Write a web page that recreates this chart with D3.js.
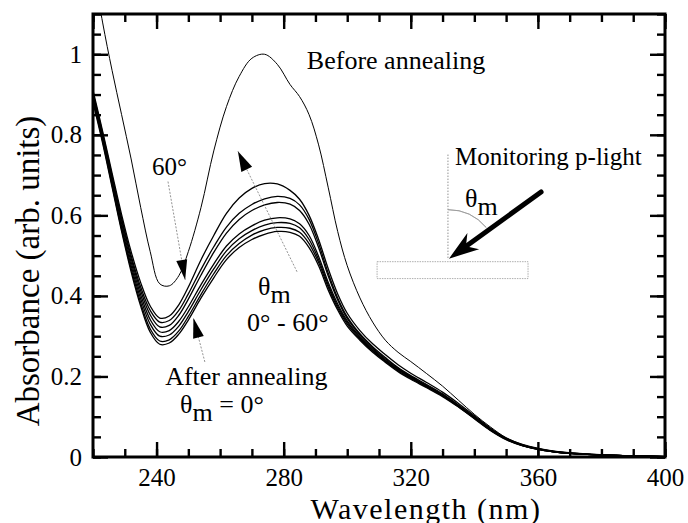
<!DOCTYPE html>
<html><head><meta charset="utf-8">
<script src="https://cdn.jsdelivr.net/npm/d3@7"></script>
<style>
html,body{margin:0;padding:0;background:#fff;}
svg{display:block;}
text{font-family:"Liberation Serif","Times New Roman",Times,Tinos,"Nimbus Roman","DejaVu Serif","Noto Serif",serif;fill:#000;}
</style></head>
<body>
<svg id="chart" width="688" height="523"></svg>
<script>
// ---------------- DATA ----------------
const wavelengths = [220,223,226,229,232,235,238,241,244,247,250,254,258,262,266,270,274,278,282,285,288,291,294,297,300,304,308,312,316,320,325,330,335,340,345,350,355,360,365,370,380,390,400];

const beforeAnnealing = [1.22,1.08,0.96,0.85,0.74,0.62,0.51,0.43,0.425,0.45,0.51,0.62,0.76,0.87,0.945,0.99,1.0,0.975,0.925,0.895,0.85,0.775,0.67,0.56,0.475,0.395,0.335,0.29,0.26,0.237,0.207,0.176,0.141,0.106,0.075,0.048,0.032,0.022,0.015,0.011,0.006,0.003,0.001];

const after0  = [0.88,0.78,0.67,0.56,0.46,0.375,0.31,0.28,0.283,0.305,0.34,0.395,0.445,0.49,0.52,0.54,0.553,0.56,0.558,0.548,0.52,0.475,0.415,0.365,0.325,0.29,0.26,0.235,0.212,0.193,0.172,0.15,0.124,0.095,0.066,0.043,0.028,0.019,0.013,0.009,0.005,0.003,0.001];
const after10 = [0.885,0.785,0.675,0.565,0.467,0.383,0.318,0.288,0.291,0.313,0.349,0.404,0.455,0.5,0.53,0.551,0.564,0.57,0.568,0.558,0.53,0.483,0.422,0.37,0.33,0.293,0.263,0.237,0.214,0.195,0.174,0.152,0.125,0.096,0.067,0.044,0.029,0.019,0.013,0.009,0.005,0.003,0.001];
const after20 = [0.89,0.79,0.68,0.572,0.475,0.393,0.33,0.3,0.303,0.325,0.361,0.416,0.467,0.512,0.542,0.562,0.576,0.582,0.58,0.569,0.54,0.49,0.428,0.375,0.334,0.296,0.265,0.239,0.216,0.197,0.175,0.153,0.126,0.097,0.068,0.044,0.029,0.019,0.013,0.009,0.005,0.003,0.001];
const after30 = [0.895,0.795,0.687,0.58,0.484,0.403,0.341,0.311,0.314,0.337,0.373,0.428,0.479,0.524,0.554,0.574,0.588,0.594,0.591,0.579,0.55,0.498,0.434,0.38,0.338,0.299,0.268,0.241,0.218,0.198,0.176,0.154,0.127,0.098,0.068,0.045,0.029,0.02,0.013,0.009,0.005,0.003,0.001];
const after40 = [0.9,0.8,0.693,0.588,0.493,0.413,0.353,0.323,0.327,0.352,0.392,0.452,0.508,0.556,0.59,0.612,0.626,0.632,0.628,0.612,0.578,0.52,0.45,0.39,0.344,0.303,0.271,0.244,0.22,0.2,0.178,0.155,0.128,0.099,0.069,0.045,0.03,0.02,0.013,0.009,0.005,0.003,0.001];
const after50 = [0.905,0.805,0.698,0.594,0.5,0.422,0.364,0.335,0.339,0.364,0.405,0.466,0.522,0.571,0.605,0.627,0.641,0.647,0.642,0.626,0.59,0.53,0.457,0.395,0.348,0.306,0.274,0.247,0.222,0.202,0.18,0.157,0.129,0.1,0.07,0.046,0.03,0.02,0.014,0.01,0.005,0.003,0.001];
const after60 = [0.91,0.81,0.705,0.602,0.51,0.433,0.375,0.345,0.35,0.378,0.422,0.49,0.55,0.605,0.643,0.667,0.679,0.678,0.662,0.64,0.6,0.54,0.468,0.405,0.357,0.314,0.281,0.254,0.229,0.208,0.185,0.161,0.133,0.103,0.072,0.047,0.031,0.021,0.014,0.01,0.005,0.003,0.001];

const afterSeries = [after0, after10, after20, after30, after40, after50, after60];
const afterAngles = ["0°","10°","20°","30°","40°","50°","60°"];

const xTickLabels = [240,280,320,360,400];
const yTickLabels = [0,0.2,0.4,0.6,0.8,1];
const xMinorTicks = d3.range(220, 401, 10);
const yMinorTicks = d3.range(0, 1.101, 0.05);

// ---------------- LAYOUT ----------------
const FONT = "'Liberation Serif','Times New Roman',Times,Tinos,'Nimbus Roman','DejaVu Serif','Noto Serif',serif";
const svg = d3.select("#chart").attr("font-family", FONT);
const L = 93, R = 665, T = 14, B = 457;
const x = d3.scaleLinear().domain([220, 400]).range([L, R]);
const y = d3.scaleLinear().domain([0, 1.1]).range([B, T]);

svg.append("defs").append("clipPath").attr("id","plotclip")
  .append("rect").attr("x",L).attr("y",T).attr("width",R-L).attr("height",B-T);

// ---------------- CURVES ----------------
const plot = svg.append("g").attr("clip-path","url(#plotclip)");
const line = d3.line().x((d,i)=>x(wavelengths[i])).y(d=>y(d)).curve(d3.curveCatmullRom.alpha(0.5));

plot.append("path").datum(beforeAnnealing).attr("d",line)
  .attr("fill","none").attr("stroke","#000").attr("stroke-width",1.0);

plot.selectAll("path.after").data(afterSeries).join("path").attr("class","after")
  .attr("d",line).attr("fill","none").attr("stroke","#000").attr("stroke-width",1.3);

// ---------------- AXES (inward ticks, all sides) ----------------
function styleAxis(g){
  g.attr("font-family", FONT);
  g.select(".domain").remove();
  g.selectAll(".tick line").attr("stroke","#000").attr("stroke-width",2.4);
  g.selectAll("text").attr("font-family", FONT).style("font-family", FONT).style("font-size","25px").attr("fill","#000");
}
svg.append("g").attr("transform",`translate(0,${B})`)
  .call(d3.axisBottom(x).tickValues(xMinorTicks).tickSize(-8).tickFormat(""))
  .call(styleAxis);
svg.append("g").attr("transform",`translate(0,${B})`)
  .call(d3.axisBottom(x).tickValues(xTickLabels).tickSize(-15).tickPadding(11).tickFormat(d3.format("d")))
  .call(styleAxis);
svg.append("g").attr("transform",`translate(0,${T})`)
  .call(d3.axisTop(x).tickValues(xMinorTicks).tickSize(-8).tickFormat(""))
  .call(styleAxis);
svg.append("g").attr("transform",`translate(0,${T})`)
  .call(d3.axisTop(x).tickValues(xTickLabels.concat([220])).tickSize(-15).tickFormat(""))
  .call(styleAxis);

svg.append("g").attr("transform",`translate(${L},0)`)
  .call(d3.axisLeft(y).tickValues(yMinorTicks).tickSize(-8).tickFormat(""))
  .call(styleAxis);
svg.append("g").attr("transform",`translate(${L},0)`)
  .call(d3.axisLeft(y).tickValues(yTickLabels).tickSize(-15).tickPadding(11).tickFormat(d=>d===0?"0":d===1?"1":d3.format(".1f")(d)))
  .call(styleAxis);
svg.append("g").attr("transform",`translate(${R},0)`)
  .call(d3.axisRight(y).tickValues(yMinorTicks).tickSize(-8).tickFormat(""))
  .call(styleAxis);
svg.append("g").attr("transform",`translate(${R},0)`)
  .call(d3.axisRight(y).tickValues(yTickLabels).tickSize(-15).tickFormat(""))
  .call(styleAxis);

// frame
svg.append("rect").attr("x",L).attr("y",T).attr("width",R-L).attr("height",B-T)
  .attr("fill","none").attr("stroke","#000").attr("stroke-width",3);

// axis titles
svg.append("text").attr("x",426).attr("y",518.5).attr("text-anchor","middle")
  .style("font-size","30px").style("letter-spacing","1.5px").text("Wavelength (nm)");
svg.append("text").attr("transform","translate(39,271) rotate(-90)").attr("text-anchor","middle")
  .style("font-size","33px").text("Absorbance (arb. units)");

// ---------------- ANNOTATIONS ----------------
const ann = svg.append("g");
function arrowHead(tip, from, len, wid){
  const dx = tip[0]-from[0], dy = tip[1]-from[1], d = Math.hypot(dx,dy);
  const ux = dx/d, uy = dy/d, nx = -uy, ny = ux;
  const bx = tip[0]-ux*len, by = tip[1]-uy*len;
  return [[tip[0],tip[1]],[bx+nx*wid/2,by+ny*wid/2],[bx-nx*wid/2,by-ny*wid/2]];
}
function pt(w,a){ return [x(w), y(a)]; }
function thinArrow(from, to, len, wid){
  ann.append("line").attr("x1",from[0]).attr("y1",from[1]).attr("x2",to[0]).attr("y2",to[1])
    .attr("stroke","#777").attr("stroke-width",0.8).attr("stroke-dasharray","2,1.5");
  ann.append("polygon").attr("points",arrowHead(to,from,len,wid).map(p=>p.join(",")).join(" "))
    .attr("fill","#000");
}
function label(w,a,size){
  return ann.append("text").attr("x",x(w)).attr("y",y(a)).style("font-size",size+"px");
}

label(287.3,0.963,26).text("Before annealing");
label(238.6,0.70,25).text("60°");
thinArrow(pt(243.6,0.684), pt(249.0,0.44), 20, 11);
thinArrow(pt(284.2,0.46), pt(265.6,0.759), 20, 12);
{
  const t = label(271.9,0.403,26);
  t.append("tspan").text("θ");
  t.append("tspan").attr("dy",8).text("m");
}
label(268.5,0.313,26).text("0° - 60°");
thinArrow(pt(255.2,0.236), pt(251.6,0.345), 20, 11);
label(242.7,0.179,26).text("After annealing");
{
  const t = label(247.4,0.109,26);
  t.append("tspan").text("θ");
  t.append("tspan").attr("dy",8).text("m");
  t.append("tspan").attr("dy",-8).text(" = 0°");
}

// Monitoring geometry inset
label(333.9,0.726,25).text("Monitoring p-light");
const pivot = pt(331.7,0.49);
ann.append("line").attr("x1",pivot[0]).attr("y1",y(0.751)).attr("x2",pivot[0]).attr("y2",pivot[1])
  .attr("stroke","#777").attr("stroke-width",0.8).attr("stroke-dasharray","1.5,1.5");
ann.append("path")
  .attr("d", d3.arc().innerRadius(50).outerRadius(50).startAngle(0).endAngle(50*Math.PI/180)())
  .attr("transform",`translate(${pivot[0]},${pivot[1]})`)
  .attr("fill","none").attr("stroke","#999").attr("stroke-width",0.8);
{
  const t = label(337.1,0.622,26);
  t.append("tspan").text("θ");
  t.append("tspan").attr("dy",8).text("m");
}
ann.append("rect").attr("x",x(309.4)).attr("y",y(0.485)).attr("width",x(356.9)-x(309.4)).attr("height",y(0.443)-y(0.485))
  .attr("fill","#fff").attr("stroke","#999").attr("stroke-width",0.8).attr("stroke-dasharray","1.5,1");
{
  const from = pt(361.0,0.658), tip = [pivot[0]+1, pivot[1]-1];
  const dx = tip[0]-from[0], dy = tip[1]-from[1], d = Math.hypot(dx,dy);
  const ux=dx/d, uy=dy/d, nx=-uy, ny=ux;
  const hl = 30, hw = 20;
  const shaftEnd = [tip[0]-ux*(hl-8), tip[1]-uy*(hl-8)];
  ann.append("line").attr("x1",from[0]).attr("y1",from[1]).attr("x2",shaftEnd[0]).attr("y2",shaftEnd[1])
    .attr("stroke","#000").attr("stroke-width",5).attr("stroke-linecap","round");
  const bx = tip[0]-ux*hl, by = tip[1]-uy*hl;
  const notch = [tip[0]-ux*(hl-9), tip[1]-uy*(hl-9)];
  const pts = [tip,[bx+nx*hw/2,by+ny*hw/2],notch,[bx-nx*hw/2,by-ny*hw/2]];
  ann.append("polygon").attr("points",pts.map(p=>p.join(",")).join(" ")).attr("fill","#000");
}
</script>
</body></html>
